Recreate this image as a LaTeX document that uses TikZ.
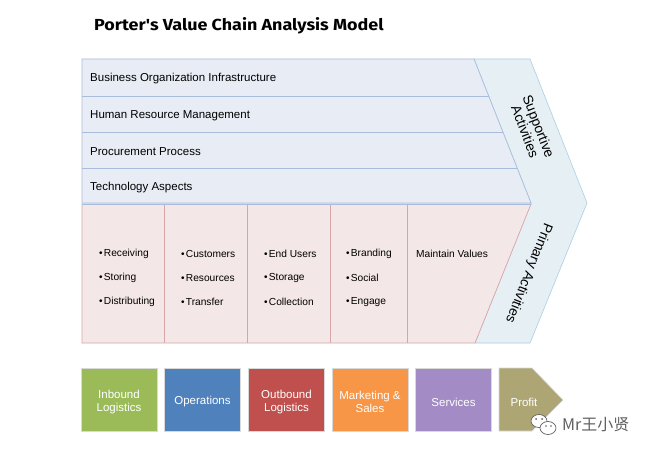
\documentclass[tikz,border=0pt]{standalone}
\usepackage{fontspec}
\setmainfont{Liberation Sans}
\newfontfamily\titlefont{Fira Sans}
\newfontfamily\cjkfont{Noto Sans CJK SC}
\definecolor{supfill}{HTML}{E8EDF5}
\definecolor{supline}{HTML}{A9BCDB}
\definecolor{primfill}{HTML}{F4E7E7}
\definecolor{primline}{HTML}{D8A6A6}
\definecolor{chevfill}{HTML}{E6EFF4}
\definecolor{chevline}{HTML}{A8D1E2}
\definecolor{cgreen}{HTML}{9BBB59}
\definecolor{cblue}{HTML}{4F81BD}
\definecolor{cred}{HTML}{C0504D}
\definecolor{corange}{HTML}{F79646}
\definecolor{cpurple}{HTML}{A38BC5}
\definecolor{colive}{HTML}{ADA574}
\definecolor{wmgray}{HTML}{606060}
\begin{document}
\begin{tikzpicture}[x=1pt,y=-1pt,
  rowtext/.style={anchor=west,font=\fontsize{11.5}{13}\selectfont,text=black,inner sep=0pt},
  bul/.style={anchor=west,font=\fontsize{10.2}{12}\selectfont,text=black,inner sep=0pt},
  chevtext/.style={font=\fontsize{13.8}{14.5}\selectfont,text=black,align=center,inner sep=0pt},
  actbox/.style={draw=white!85!black,line width=0.6pt,minimum width=76pt,minimum height=63pt,inner sep=0pt},
  boxtext/.style={text=white,align=center,inner sep=0pt,font=\fontsize{11.5}{13}\selectfont}
]
\useasboundingbox (0,0) rectangle (650,454);
\fill[white] (0,0) rectangle (650,454);

% title
\node[font=\titlefont\bfseries\fontsize{16}{18}\selectfont,anchor=west,inner sep=0pt,xscale=1.12] (title) at (94,25.5) {Porter's Value Chain Analysis Model};

% chevron band
\filldraw[fill=chevfill,draw=chevline,line width=0.6pt]
  (474,59) -- (530,59) -- (587,203) -- (530,343) -- (475,343) -- (531,203) -- cycle;

% supportive area
\filldraw[fill=supfill,draw=supline,line width=0.7pt]
  (82,59) -- (474,59) -- (531,203) -- (82,203) -- cycle;
\draw[supline,line width=0.7pt] (82,96) -- (488.6,96);
\draw[supline,line width=0.7pt] (82,132) -- (502.7,132);
\draw[supline,line width=0.7pt] (82,168) -- (517.2,168);

% primary area
\filldraw[fill=primfill,draw=primline,line width=0.7pt]
  (82,204) -- (531,204) -- (475,343) -- (82,343) -- cycle;
\foreach \cx in {164,247,330,407} \draw[primline,line width=0.7pt] (\cx,204) -- (\cx,343);
\draw[supline,line width=0.7pt] (82,204) -- (531,204);

% support rows text
\node[rowtext] (r1) at (90,79) {Business Organization Infrastructure};
\node[rowtext] (r2) at (90,116) {Human Resource Management};
\node[rowtext] (r3) at (90,151.5) {Procurement Process};
\node[rowtext] (r4) at (90,187.5) {Technology Aspects};

% primary bullets
\newcommand{\bl}{{\fontsize{10}{9}\selectfont\textbullet}\hspace{1.2pt}}
\node[bul] (a1) at (99,254) {\bl Receiving};
\node[bul] (a2) at (99,278) {\bl Storing};
\node[bul] (a3) at (99,302) {\bl Distributing};
\node[bul] (b1) at (181,254) {\bl Customers};
\node[bul] (b2) at (181,278) {\bl Resources};
\node[bul] (b3) at (181,302) {\bl Transfer};
\node[bul] (c1) at (264,254) {\bl End Users};
\node[bul] (c2) at (264,278) {\bl Storage};
\node[bul] (c3) at (264,302) {\bl Collection};
\node[bul] (d1) at (346,254) {\bl Branding};
\node[bul] (d2) at (346,278) {\bl Social};
\node[bul] (d3) at (346,302) {\bl Engage};
\node[bul] (e1) at (416,254) {Maintain Values};

% chevron labels
\node[chevtext,rotate=-69] (sup) at (532,129) {Supportive\\Activities};
\node[chevtext,rotate=-111.5] (pri) at (528.5,273) {Primary Activities};

% bottom boxes
\node[actbox,fill=cgreen] (inb) at (119,399.5) {};
\node[actbox,fill=cblue] (ops) at (202.5,399.5) {};
\node[actbox,fill=cred] (outb) at (286.5,399.5) {};
\node[actbox,fill=corange] (mkt) at (370,399.5) {};
\node[actbox,fill=cpurple] (srv) at (453.5,399.5) {};
\node[boxtext] (inbt) at ([yshift=-2.5pt]inb.center) {Inbound\\Logistics};
\node[boxtext] (opst) at ([yshift=-2.5pt]ops.center) {Operations};
\node[boxtext] (outbt) at ([yshift=-2.5pt]outb.center) {Outbound\\Logistics};
\node[boxtext] (mktt) at ([yshift=-2.5pt]mkt.center) {Marketing \&\\Sales};
\node[boxtext] (srvt) at ([yshift=-2.5pt]srv.center) {Services};
\filldraw[fill=colive,draw=white!85!black,line width=0.6pt]
  (499,368) -- (532,368) -- (563,400) -- (532,431) -- (499,431) -- cycle;
\node[boxtext] (prof) at (524,402) {Profit};

% watermark
\begin{scope}[draw=wmgray,line width=0.7pt]
  \filldraw[fill=white] (539,421) ellipse (8pt and 6.5pt);
  \filldraw[fill=white] (548,428) ellipse (8pt and 6.5pt);
  \fill[wmgray] (536,419) circle (1pt) (542,419) circle (1pt);
  \fill[wmgray] (546,426) circle (0.8pt) (551,426) circle (0.8pt);
\end{scope}
\node[anchor=west,inner sep=0pt,text=wmgray,font=\cjkfont\fontsize{16}{18}\selectfont] (wm) at (562,425) {Mr王小贤};
\end{tikzpicture}
\end{document}
